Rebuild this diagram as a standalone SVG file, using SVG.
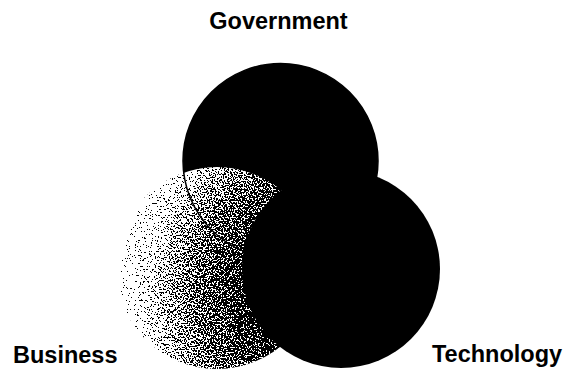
<svg xmlns="http://www.w3.org/2000/svg" width="564" height="370" viewBox="0 0 564 370">
  <style>
    .label { font-family: "Liberation Sans", Arial, sans-serif; font-weight: bold; font-size: 23.5px; fill: #000; }
    .solid { fill: #000; }
  </style>
  <defs>
    <radialGradient id="bizGrad" gradientUnits="userSpaceOnUse" cx="330" cy="290" r="210">
      <stop offset="0" stop-color="#0d0d0d"/>
      <stop offset="0.38" stop-color="#333"/>
      <stop offset="0.65" stop-color="#737373"/>
      <stop offset="0.74" stop-color="#949494"/>
      <stop offset="0.85" stop-color="#c8c8c8"/>
      <stop offset="0.93" stop-color="#f0f0f0"/>
      <stop offset="1" stop-color="#ffffff"/>
    </radialGradient>
    <clipPath id="bizClip">
      <circle cx="217" cy="268" r="101"/>
    </clipPath>
    <filter id="speckle" x="0" y="0" width="1" height="1" color-interpolation-filters="sRGB">
      <feTurbulence type="fractalNoise" baseFrequency="0.65" numOctaves="2" seed="7" result="noise"/>
      <feColorMatrix in="noise" type="matrix" values="1 0 0 0 0  1 0 0 0 0  1 0 0 0 0  0 0 0 0 1" result="gray"/>
      <feComponentTransfer in="gray" result="stretched">
        <feFuncR type="linear" slope="2.5" intercept="-0.75"/>
        <feFuncG type="linear" slope="2.5" intercept="-0.75"/>
        <feFuncB type="linear" slope="2.5" intercept="-0.75"/>
      </feComponentTransfer>
      <feComposite in="SourceGraphic" in2="stretched" operator="arithmetic" k1="0" k2="1" k3="1" k4="-0.5" result="sum"/>
      <feComponentTransfer in="sum">
        <feFuncR type="discrete" tableValues="0 1"/>
        <feFuncG type="discrete" tableValues="0 1"/>
        <feFuncB type="discrete" tableValues="0 1"/>
        <feFuncA type="discrete" tableValues="1 1"/>
      </feComponentTransfer>
    </filter>
  </defs>
  <rect width="564" height="370" fill="#fff"/>
  <g id="node-government">
    <circle class="solid" cx="280.5" cy="161" r="97.5"/>
  </g>
  <g id="node-business">
    <g clip-path="url(#bizClip)">
      <rect x="110" y="160" width="220" height="210" fill="url(#bizGrad)" filter="url(#speckle)"/>
    </g>
    <text class="label" x="13" y="363">Business</text>
  </g>
  <g id="government-outline">
    <circle cx="280.5" cy="161" r="97.5" fill="none" stroke="#000" stroke-width="1.5"/>
    <text class="label" x="278.5" y="29" text-anchor="middle">Government</text>
  </g>
  <g id="node-technology">
    <circle class="solid" cx="341" cy="269" r="99"/>
    <text class="label" x="432" y="362">Technology</text>
  </g>
  <g id="connectors"/>
</svg>
